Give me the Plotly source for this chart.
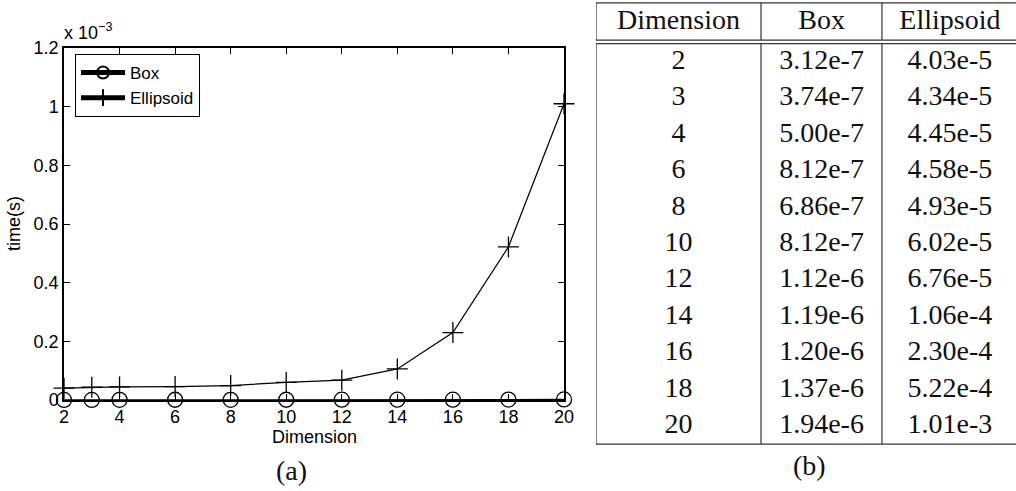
import plotly.graph_objects as go

# ---- data ----
dims = [2, 3, 4, 6, 8, 10, 12, 14, 16, 18, 20]
box_time = [3.12e-7, 3.74e-7, 5.00e-7, 8.12e-7, 6.86e-7, 8.12e-7, 1.12e-6, 1.19e-6, 1.20e-6, 1.37e-6, 1.94e-6]
ell_time = [4.03e-5, 4.34e-5, 4.45e-5, 4.58e-5, 4.93e-5, 6.02e-5, 6.76e-5, 1.06e-4, 2.30e-4, 5.22e-4, 1.01e-3]
box_text = ["3.12e-7", "3.74e-7", "5.00e-7", "8.12e-7", "6.86e-7", "8.12e-7", "1.12e-6", "1.19e-6", "1.20e-6", "1.37e-6", "1.94e-6"]
ell_text = ["4.03e-5", "4.34e-5", "4.45e-5", "4.58e-5", "4.93e-5", "6.02e-5", "6.76e-5", "1.06e-4", "2.30e-4", "5.22e-4", "1.01e-3"]
table_headers = ["Dimension", "Box", "Ellipsoid"]
x_ticks = [2, 4, 6, 8, 10, 12, 14, 16, 18, 20]
y_ticks = [0, 0.2e-3, 0.4e-3, 0.6e-3, 0.8e-3, 1.0e-3, 1.2e-3]
y_tick_labels = ["0", "0.2", "0.4", "0.6", "0.8", "1", "1.2"]

W, H = 1016, 491
SANS = "Liberation Sans, Arial, sans-serif"
SERIF = "Liberation Serif, Times New Roman, serif"
FS = 18
SF = 28

fig = go.Figure()

fig.add_trace(go.Scatter(
    x=dims, y=box_time, name="Box", mode="lines+markers",
    line=dict(color="black", width=1.2),
    marker=dict(symbol="circle-open", size=15, color="black", line=dict(width=1.3, color="black")),
    cliponaxis=False, xaxis="x", yaxis="y"))
fig.add_trace(go.Scatter(
    x=dims, y=ell_time, name="Ellipsoid", mode="lines+markers",
    line=dict(color="black", width=1.2),
    marker=dict(symbol="cross-thin-open", size=15, color="black", line=dict(width=1.3, color="black")),
    cliponaxis=False, xaxis="x", yaxis="y"))

# ---- table (drawn on its own hidden axes; x in column units, y in row units) ----
col_edges = [0, 1, 1.733, 2.545]   # column boundaries (relative widths)
col_centers = [0.5, 1.367, 2.145]
n = len(dims)
rows = list(range(n))
row_centers = [r + 0.5 for r in rows]
header_center = -0.6

for ci, vals in enumerate([[str(d) for d in dims], box_text, ell_text]):
    fig.add_trace(go.Scatter(
        x=[col_centers[ci]] * n, y=row_centers, text=vals, mode="text",
        textfont=dict(family=SERIF, size=SF, color="#111"),
        showlegend=False, hoverinfo="skip", xaxis="x2", yaxis="y2", cliponaxis=False))
fig.add_trace(go.Scatter(
    x=col_centers, y=[header_center] * 3, text=table_headers, mode="text",
    textfont=dict(family=SERIF, size=SF, color="#111"),
    showlegend=False, hoverinfo="skip", xaxis="x2", yaxis="y2", cliponaxis=False))

shapes = []
lc = dict(color="#333", width=1.2)
for yy in [-1.12, -0.1, 0, n]:
    shapes.append(dict(type="line", xref="x2", yref="y2", x0=col_edges[0], x1=col_edges[-1] + 0.2,
                       y0=yy, y1=yy, line=lc))
for xx in col_edges[:3]:
    shapes.append(dict(type="line", xref="x2", yref="y2", x0=xx, x1=xx, y0=-1.12, y1=-0.1, line=lc))
    shapes.append(dict(type="line", xref="x2", yref="y2", x0=xx, x1=xx, y0=0, y1=n, line=lc))

annotations = [
    dict(text="x 10<sup>−3</sup>", x=62 / W, y=1 - 45 / H, xref="paper", yref="paper",
         xanchor="left", yanchor="bottom", showarrow=False, font=dict(family=SANS, size=FS, color="black")),
    dict(text="Dimension", x=(64 + 564) / 2 / W + 0.5 / W, y=1 - 437 / H, xref="paper", yref="paper",
         xanchor="center", yanchor="middle", showarrow=False, font=dict(family=SANS, size=FS, color="black")),
    dict(text="time(s)", x=14 / W, y=1 - 224 / H, xref="paper", yref="paper", textangle=-90,
         xanchor="center", yanchor="middle", showarrow=False, font=dict(family=SANS, size=FS, color="black")),
    dict(text="(a)", x=291 / W, y=1 - 470 / H, xref="paper", yref="paper",
         xanchor="center", yanchor="middle", showarrow=False, font=dict(family=SERIF, size=SF, color="#111")),
    dict(text="(b)", x=809 / W, y=1 - 465 / H, xref="paper", yref="paper",
         xanchor="center", yanchor="middle", showarrow=False, font=dict(family=SERIF, size=SF, color="#111")),
]

axis_common = dict(showline=True, linecolor="black", linewidth=1.5, mirror="allticks",
                   ticks="inside", ticklen=6, tickcolor="black", tickwidth=1.2,
                   showgrid=False, zeroline=False, automargin=False,
                   tickfont=dict(family=SANS, size=FS, color="black"))

px_per_row = 36.4
top_px = 43.7
fig.update_layout(
    template="none",
    width=W, height=H, margin=dict(l=0, r=0, t=0, b=0, autoexpand=False),
    paper_bgcolor="white", plot_bgcolor="rgba(0,0,0,0)",
    xaxis=dict(domain=[64 / W, 564 / W], range=[2, 20], tickvals=x_ticks, **axis_common),
    yaxis=dict(domain=[1 - 400 / H, 1 - 48 / H], range=[0, 1.2e-3], tickvals=y_ticks,
               ticktext=y_tick_labels, **axis_common),
    xaxis2=dict(domain=[596 / W, 1], range=[0, (1016 - 596) / 165], visible=False, anchor="y2",
                automargin=False),
    yaxis2=dict(domain=[0, 1], range=[(H - top_px) / px_per_row, -top_px / px_per_row],
                visible=False, anchor="x2", automargin=False),
    legend=dict(x=75 / W, y=1 - 54 / H, xanchor="left", yanchor="top",
                bgcolor="white", bordercolor="black", borderwidth=1,
                font=dict(family=SANS, size=17, color="black"), tracegroupgap=0,
                itemsizing="constant", itemwidth=44),
    shapes=shapes, annotations=annotations, showlegend=True,
)

fig.write_html("out.html", config={"displayModeBar": False},
               post_script="document.body.style.margin='0';document.body.style.overflow='hidden';")
